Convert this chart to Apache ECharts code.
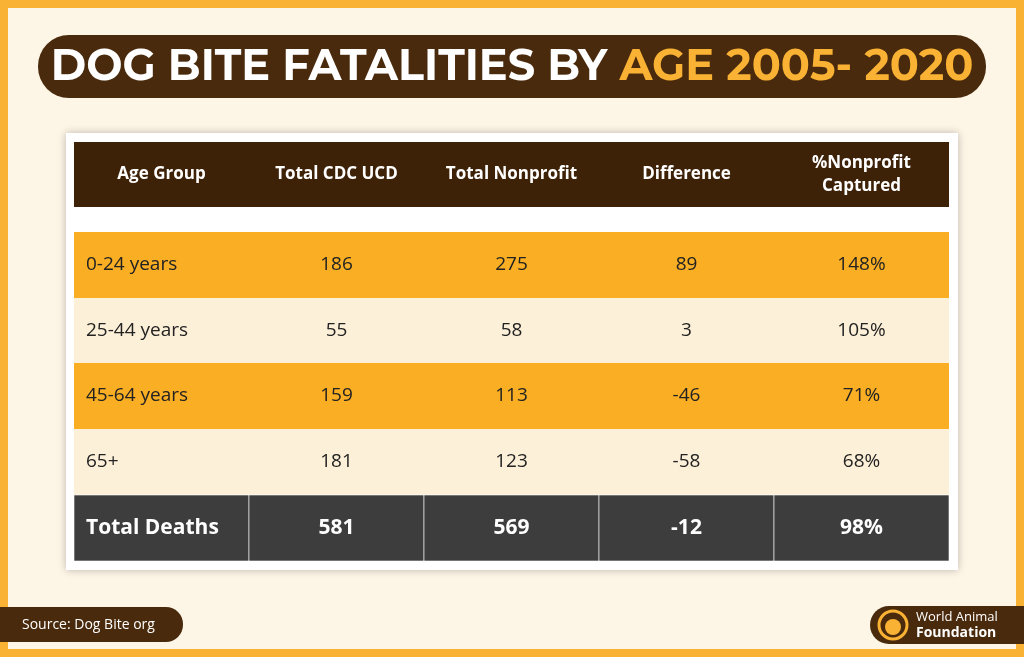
<!DOCTYPE html><html><head><meta charset="utf-8">
<script src="https://cdn.jsdelivr.net/npm/echarts@6/dist/echarts.min.js"></script>
<style>html,body{margin:0;padding:0;background:#FDF5E6}#c{width:1024px;height:657px}</style></head><body><div id="c"></div>
<script>
const columns = ['Age Group','Total CDC UCD','Total Nonprofit','Difference','%Nonprofit\nCaptured'];
const ageGroups = ['0-24 years','25-44 years','45-64 years','65+'];
const totalCDC = [186,55,159,181];
const totalNonprofit = [275,58,113,123];
const difference = [89,3,-46,-58];
const pctCaptured = ['148%','105%','71%','68%'];
const totals = ['Total Deaths','581','569','-12','98%'];

// row edges (px within table, y axis units)
const rowEdges = [[0,65],[90,156],[156,221],[221,287],[287,353],[353,419]];
const rowFill = ['#3E2208','#F9AE24','#FDF0D8','#F9AE24','#FDF0D8','#3D3D3D'];

const data = [];
columns.forEach((c,i)=>data.push([i,0,c]));
ageGroups.forEach((g,r)=>{
  [g,String(totalCDC[r]),String(totalNonprofit[r]),String(difference[r]),pctCaptured[r]].forEach((v,i)=>data.push([i,r+1,v]));
});
totals.forEach((v,i)=>data.push([i,5,v]));

const chart = echarts.init(document.getElementById('c'));
chart.setOption({
  animation:false,
  grid:{left:74,right:75,top:142,bottom:96},
  xAxis:{type:'value',min:0,max:5,show:false},
  yAxis:{type:'value',min:0,max:419,inverse:true,show:false},
  graphic:[
    {type:'rect',shape:{x:0,y:0,width:1024,height:657},style:{fill:'none',stroke:'#F9B233',lineWidth:16},z:-1},
    {type:'rect',shape:{x:38,y:35,width:948,height:63,r:31},style:{fill:'#4A2A0C'}},
    {type:'text',x:512,y:67,style:{rich:{a:{fill:'#fff',font:'bold 43px Montserrat, "DejaVu Sans", sans-serif'},b:{fill:'#F9B233',font:'bold 43px Montserrat, "DejaVu Sans", sans-serif'}},text:'{a|DOG BITE FATALITIES BY }{b|AGE 2005- 2020}',align:'center',verticalAlign:'middle'}},
    {type:'rect',shape:{x:66,y:133,width:892,height:437},style:{fill:'#fff',shadowBlur:8,shadowColor:'rgba(0,0,0,0.25)'},z:-1},
    {type:'rect',shape:{x:0,y:607,width:183,height:35,r:[0,17,17,0]},style:{fill:'#4A2A0C'}},
    {type:'text',x:22,y:625,style:{text:'Source: Dog Bite org',fill:'#fff',font:'14px "Open Sans", sans-serif',verticalAlign:'middle'}},
    {type:'rect',shape:{x:870,y:606,width:154,height:38,r:[19,0,0,19]},style:{fill:'#4A2A0C'}},
    {type:'circle',shape:{cx:893,cy:625,r:14},style:{fill:'none',stroke:'#F9B233',lineWidth:3}},
    {type:'circle',shape:{cx:893,cy:627,r:8},style:{fill:'#F9B233'}},
    {type:'text',x:916,y:617,style:{text:'World Animal',fill:'#fff',font:'13px "Open Sans", sans-serif',verticalAlign:'middle'}},
    {type:'text',x:916,y:633,style:{text:'Foundation',fill:'#fff',font:'bold 14px "Open Sans", sans-serif',verticalAlign:'middle'}}
  ],
  series:[{
    type:'custom',
    data:data,
    renderItem:function(params,api){
      const col=api.value(0), row=api.value(1);
      const text=data[params.dataIndex][2];
      const e=rowEdges[row];
      const p0=api.coord([col,e[0]]), p1=api.coord([col+1,e[1]]);
      const w=p1[0]-p0[0], h=p1[1]-p0[1];
      const isHeader=row===0, isTotal=row===5;
      const color=(isHeader||isTotal)?'#fff':'#222';
      const font=isHeader?'bold 17px "Open Sans", sans-serif':isTotal?'bold 21px "Open Sans", sans-serif':'19px "Open Sans", sans-serif';
      const left=col===0&&!isHeader;
      const children=[{type:'rect',shape:{x:p0[0],y:p0[1],width:w,height:h},style:{fill:rowFill[row],stroke:isTotal?'#fff':null,lineWidth:isTotal?0.6:0}}];
      children.push({type:'text',style:{x:left?p0[0]+12:p0[0]+w/2,y:p0[1]+h/2,text:text,fill:color,font:font,align:left?'left':'center',verticalAlign:'middle',lineHeight:23}});
      return {type:'group',children:children};
    }
  }]
});
</script></body></html>
